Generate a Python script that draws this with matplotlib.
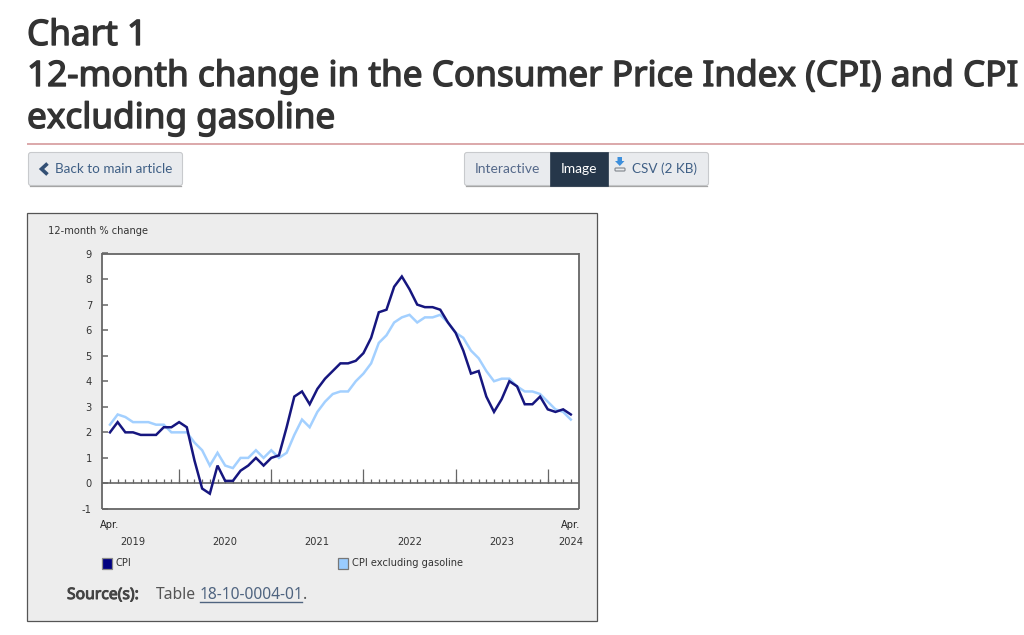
import matplotlib
matplotlib.use("Agg")
import matplotlib.pyplot as plt
import matplotlib.patheffects as pe
from matplotlib.patches import Rectangle, FancyBboxPatch, Polygon

# ---- data ----
cpi = [2.0, 2.4, 2.0, 2.0, 1.9, 1.9, 1.9, 2.2, 2.2,
       2.4, 2.2, 0.9, -0.2, -0.4, 0.7, 0.1, 0.1, 0.5, 0.7, 1.0, 0.7,
       1.0, 1.1, 2.2, 3.4, 3.6, 3.1, 3.7, 4.1, 4.4, 4.7, 4.7, 4.8,
       5.1, 5.7, 6.7, 6.8, 7.7, 8.1, 7.6, 7.0, 6.9, 6.9, 6.8, 6.3,
       5.9, 5.2, 4.3, 4.4, 3.4, 2.8, 3.3, 4.0, 3.8, 3.1, 3.1, 3.4,
       2.9, 2.8, 2.9, 2.7]
cpi_ex_gas = [2.3, 2.7, 2.6, 2.4, 2.4, 2.4, 2.3, 2.3, 2.0,
              2.0, 2.0, 1.6, 1.3, 0.7, 1.2, 0.7, 0.6, 1.0, 1.0, 1.3, 1.0,
              1.3, 1.0, 1.2, 1.9, 2.5, 2.2, 2.8, 3.2, 3.5, 3.6, 3.6, 4.0,
              4.3, 4.7, 5.5, 5.8, 6.3, 6.5, 6.6, 6.3, 6.5, 6.5, 6.6, 6.3,
              5.9, 5.7, 5.2, 4.9, 4.4, 4.0, 4.1, 4.1, 3.8, 3.6, 3.6, 3.5,
              3.2, 2.9, 2.8, 2.5]
months = list(range(len(cpi)))
year_positions = [3, 15, 27, 39, 51, 60]
year_labels = ["2019", "2020", "2021", "2022", "2023", "2024"]
major_months = [9, 21, 33, 45, 57]
y_ticks = list(range(-1, 10))

W, H = 1024, 635
fig = plt.figure(figsize=(W / 100, H / 100), dpi=100, facecolor="white")

# page layer in pixel coordinates
pg = fig.add_axes([0, 0, 1, 1], zorder=0)
pg.set_xlim(0, W); pg.set_ylim(H, 0); pg.axis("off")

DARK = "#333333"
TF = ["Noto Sans", "DejaVu Sans"]
for txt, y in [("Chart 1", 36), ("12-month change in the Consumer Price Index (CPI) and CPI", 77),
               ("excluding gasoline", 119)]:
    t = pg.text(27, y, txt, fontsize=25.3, family=TF, color=DARK, va="center", ha="left")
    t.set_path_effects([pe.withStroke(linewidth=1.0, foreground=DARK)])
pg.plot([27, 1024], [143.5, 143.5], color="#d6999c", lw=1.2, solid_capstyle="butt")

# buttons
def button(x0, y0, x1, y1, fc="#e9ebee", ec="#c8cacd"):
    pg.add_patch(FancyBboxPatch((x0 + 0.5, y0 + 0.5), x1 - x0 - 1, y1 - y0 - 1,
                                boxstyle="round,pad=0,rounding_size=2.5",
                                fc=fc, ec=ec, lw=0.8, mutation_aspect=1))
    pg.plot([x0 + 2, x1 - 2], [y1 - 0.2, y1 - 0.2], color="#a5a5a5", lw=0.9)

BF = "Lato"
BLUE = "#3f5f85"
button(28, 152, 183, 186)
pg.plot([47.5, 41.5, 47.5], [163.5, 169, 174.5], color="#335075", lw=2.6,
        solid_joinstyle="miter", solid_capstyle="butt")
pg.text(55, 169, "Back to main article", family=BF, fontsize=9.7, color=BLUE,
        va="center", ha="left")
button(464, 152, 709, 186)
pg.add_patch(Rectangle((549.5, 152), 58, 34, fc="#26374a", ec="#26374a", lw=0.5, zorder=3))
pg.text(474.5, 169, "Interactive", family=BF, fontsize=10, color="#55698a",
        va="center", ha="left")
pg.text(578.5, 169, "Image", family=BF, fontsize=10, color="white", va="center",
        ha="center", zorder=4)
pg.text(632, 169, "CSV (2 KB)", family=BF, fontsize=9.7, color=BLUE, va="center", ha="left")
pg.add_patch(Polygon([(617.5, 157), (622, 157), (622, 161), (624.5, 161), (619.8, 166),
                      (615, 161), (617.5, 161)], fc="#3d8fdc", ec="none"))
pg.add_patch(FancyBboxPatch((615, 168), 10, 3, boxstyle="round,pad=0,rounding_size=1",
                            fc="#e9ebee", ec="#8a8f96", lw=0.9))

# chart panel
pg.add_patch(Rectangle((27, 213), 570, 408, fc="#ededed", ec="#555555", lw=0.9))

# plot
left, right, top, bottom = 102.3, 578.5, 253.5, 509.0
ax = fig.add_axes([left / W, 1 - bottom / H, (right - left) / W, (bottom - top) / H], zorder=2)
ax.set_xlim(-1, 61)
ax.set_ylim(-1, 9)
ax.set_facecolor("white")
GR = "#666666"
for s in ax.spines.values():
    s.set_color(GR); s.set_linewidth(1.3); s.set_capstyle("butt")
ax.axhline(0, color=GR, lw=1.2, zorder=1)
ax.vlines(months, 0, 0.18, color=GR, lw=0.9, zorder=1)
ax.vlines(major_months, 0, 0.57, color=GR, lw=0.9, zorder=1)
ax.plot(months, cpi_ex_gas, color="#a3d0ff", lw=1.8, zorder=2, solid_joinstyle="miter")
ax.plot(months, cpi, color="#16167f", lw=1.8, zorder=3, solid_joinstyle="miter")
CF = "DejaVu Sans"
TXT = "#333333"
FS = 7.1
ax.set_yticks(y_ticks)
ax.set_yticklabels([str(v) for v in y_ticks], fontsize=FS, color=TXT, family=CF)
ax.tick_params(axis="y", direction="in", length=4.5, width=1.1, color=GR, pad=7.5)
ax.set_xticks(year_positions)
ax.set_xticklabels(year_labels, fontsize=FS, color=TXT, family=CF)
ax.tick_params(axis="x", length=0, pad=20)

pg.text(48, 231, "12-month % change", family=CF, fontsize=FS, color=TXT, va="center", ha="left")
pg.text(110, 525.5, "Apr.", family=CF, fontsize=FS, color="#222222", va="center", ha="center")
pg.text(571, 525.5, "Apr.", family=CF, fontsize=FS, color="#222222", va="center", ha="center")

# legend
pg.add_patch(Rectangle((102, 558), 10, 10.5, fc="#000080", ec="#888888", lw=0.9))
pg.text(116, 563.5, "CPI", family=CF, fontsize=FS, color=TXT, va="center", ha="left")
pg.add_patch(Rectangle((338, 558), 10, 10.5, fc="#99ccff", ec="#777777", lw=0.9))
pg.text(352, 563.5, "CPI excluding gasoline", family=CF, fontsize=FS, color=TXT,
        va="center", ha="left")

# source
t = pg.text(67, 595, "Source(s):", family=TF, fontsize=11.3, color="#444444", va="center", ha="left")
t.set_path_effects([pe.withStroke(linewidth=0.7, foreground="#444444")])
pg.text(156, 595, "Table", family=TF, fontsize=11.3, color="#555555", va="center", ha="left")
pg.text(199.5, 595, "18-10-0004-01", family=TF, fontsize=11.15, color="#4f6480", va="center", ha="left")
pg.plot([199.5, 302], [602, 602], color="#4f6480", lw=1)
pg.text(302.5, 595, ".", family=TF, fontsize=11.3, color="#555555", va="center", ha="left")

fig.savefig("out.png", dpi=100)
